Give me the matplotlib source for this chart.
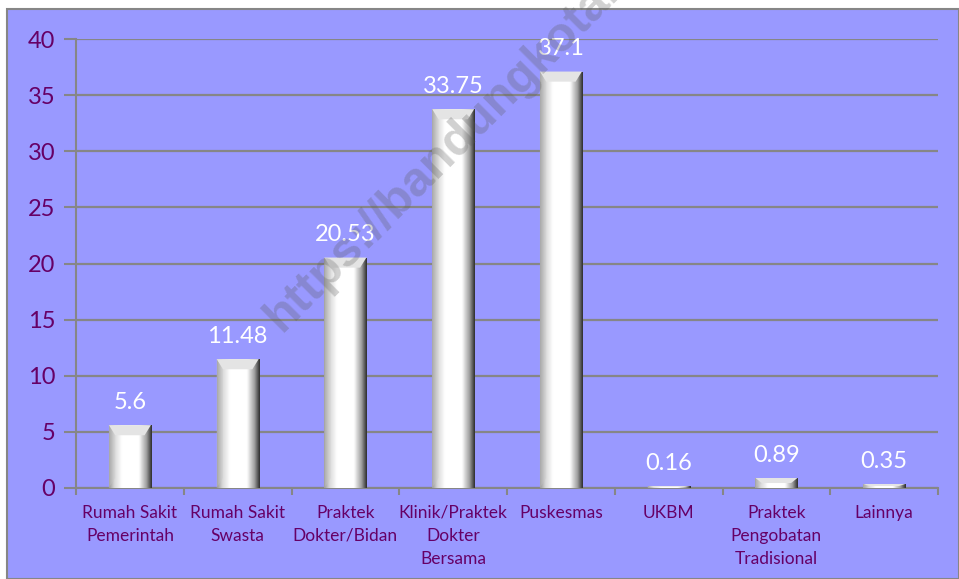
import matplotlib.pyplot as plt
import numpy as np
from matplotlib.colors import LinearSegmentedColormap
from matplotlib.patches import Rectangle

CATEGORIES = [
    "Rumah Sakit\nPemerintah",
    "Rumah Sakit\nSwasta",
    "Praktek\nDokter/Bidan",
    "Klinik/Praktek\nDokter\nBersama",
    "Puskesmas",
    "UKBM",
    "Praktek\nPengobatan\nTradisional",
    "Lainnya",
]
VALUES = [5.6, 11.48, 20.53, 33.75, 37.1, 0.16, 0.89, 0.35]
LABELS = ["5.6", "11.48", "20.53", "33.75", "37.1", "0.16", "0.89", "0.35"]
Y_TICKS = [0, 5, 10, 15, 20, 25, 30, 35, 40]

BG = "#9999FF"
PURPLE = "#660066"
GRID = "#868686"

plt.rcParams["font.family"] = ["Lato", "DejaVu Sans"]

fig = plt.figure(figsize=(9.59, 5.79), dpi=100)
fig.patch.set_facecolor("white")
frame = Rectangle((7 / 959, 0), 1 - 7 / 959, 1 - 9 / 579, transform=fig.transFigure,
                  facecolor=BG, edgecolor=GRID, linewidth=1.5, zorder=-5)
fig.patches.append(frame)

ax = fig.add_axes([76 / 959, 91 / 579, 862 / 959, 449 / 579])
ax.set_zorder(1)
ax.patch.set_alpha(0)

x = np.arange(len(CATEGORIES))
width = 0.39
ax.set_xlim(-0.5, len(CATEGORIES) - 0.5)
ax.set_ylim(0, 40)

# cylinder-ish shading across each bar
shade = LinearSegmentedColormap.from_list(
    "bevel", [(0, "#9a9a9a"), (0.12, "#d8d8d8"), (0.3, "#ffffff"), (0.7, "#ffffff"),
              (0.88, "#a0a0a0"), (1.0, "#303030")])
grad = np.linspace(0, 1, 64).reshape(1, -1)

bars = ax.bar(x, VALUES, width=width, color="none", edgecolor="none", zorder=3)
for bar in bars:
    x0, w, h = bar.get_x(), bar.get_width(), bar.get_height()
    im = ax.imshow(grad, extent=(x0, x0 + w, 0, h), aspect="auto", cmap=shade, zorder=3,
                   interpolation="bicubic")
    im.set_clip_path(bar)
    bev = min(0.9, h * 0.5)
    ax.fill([x0, x0 + w, x0 + w * 0.85, x0 + w * 0.15], [h, h, h - bev, h - bev],
            color="#e4e4e4", zorder=4, linewidth=0)
    ax.fill([x0, x0 + w * 0.15, x0 + w * 0.15, x0], [h, h - bev, bev, 0],
            color="#c8c8c8", alpha=0.35, zorder=4, linewidth=0)

for xi, v, lab in zip(x, VALUES, LABELS):
    ax.annotate(lab, (xi, v), xytext=(0, 9), textcoords="offset points", ha="center", va="bottom",
                color="white", fontsize=17, zorder=5)

ax.set_yticks(Y_TICKS)
ax.yaxis.grid(True, color=GRID, linewidth=1.6, zorder=1)
ax.set_axisbelow(True)
ax.tick_params(axis="y", colors=GRID, labelcolor=PURPLE, labelsize=17, length=9, width=1.5, pad=6)

ax.set_xticks(np.arange(len(CATEGORIES) + 1) - 0.5)
ax.set_xticklabels([])
ax.tick_params(axis="x", colors=GRID, length=5, width=1.5, direction="out")
for xi, cat in zip(x, CATEGORIES):
    ax.text(xi, -1.5, cat, ha="center", va="top", color=PURPLE, fontsize=12.5,
            linespacing=1.55)

for side in ["top", "right"]:
    ax.spines[side].set_visible(False)
ax.spines["left"].set_color(GRID)
ax.spines["left"].set_linewidth(1.5)
ax.spines["bottom"].set_color(GRID)
ax.spines["bottom"].set_linewidth(1.5)

fig.text(282 / 959, 1 - 333 / 579, "https://bandungkota.", rotation=45, ha="left",
         va="baseline", rotation_mode="anchor", fontsize=35, fontweight="bold", color="#5a5a5a",
         alpha=0.28, family="Liberation Sans", zorder=10)

fig.savefig("out.png", dpi=100)
